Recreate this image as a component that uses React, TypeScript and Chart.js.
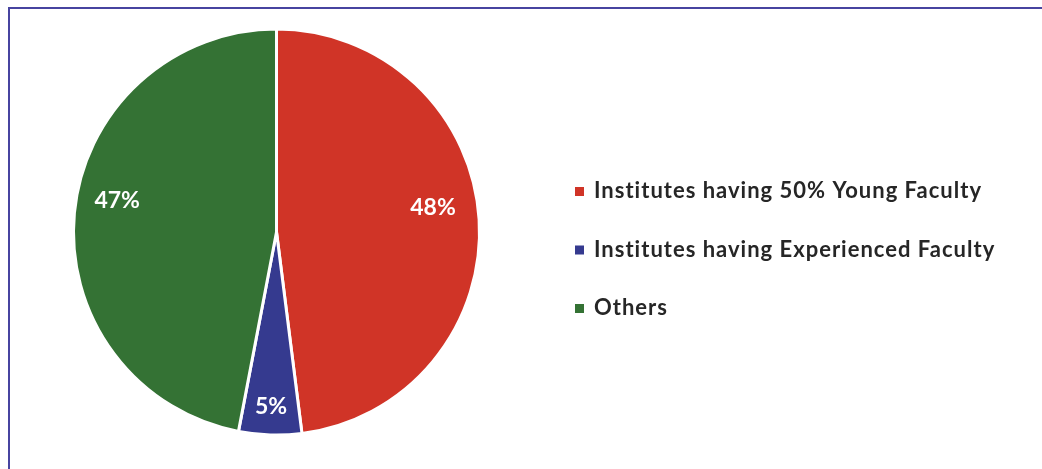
import React, { useEffect, useRef } from "react";
import { Chart, registerables } from "chart.js";

Chart.register(...registerables);

const categories = [
  "Institutes having 50% Young Faculty",
  "Institutes having Experienced Faculty",
  "Others",
];
const values = [48, 5, 47];
const valueLabels = ["48%", "5%", "47%"];
const colors = ["#d03427", "#353a8f", "#347234"];

const FONT = "Lato, 'Open Sans', sans-serif";

const labelPlugin = {
  id: "sliceLabels",
  afterDatasetsDraw(chart: any) {
    const ctx = chart.ctx;
    const meta = chart.getDatasetMeta(0);
    const fr = [0.78, 0.86, 0.8];
    const angOff = [-0.09, 0.0, 0.1];
    ctx.save();
    ctx.fillStyle = "#ffffff";
    ctx.font = `bold 23px ${FONT}`;
    ctx.textAlign = "center";
    ctx.textBaseline = "middle";
    meta.data.forEach((arc: any, i: number) => {
      const p = arc.getProps(["x", "y", "startAngle", "endAngle", "outerRadius"], true);
      const mid = (p.startAngle + p.endAngle) / 2 + angOff[i];
      const r = p.outerRadius * fr[i];
      ctx.fillText(valueLabels[i], p.x + Math.cos(mid) * r, p.y + Math.sin(mid) * r);
    });
    ctx.restore();
  },
};

const legendPlugin = {
  id: "customLegend",
  afterDraw(chart: any) {
    const ctx = chart.ctx;
    const x0 = 575;
    const y0 = 191;
    const gap = 58.5;
    ctx.save();
    ctx.font = `bold 22px ${FONT}`;
    (ctx as any).letterSpacing = "1px";
    ctx.textBaseline = "middle";
    ctx.textAlign = "left";
    chart.data.labels.forEach((lab: string, i: number) => {
      const y = y0 + i * gap;
      ctx.fillStyle = chart.data.datasets[0].backgroundColor[i];
      ctx.fillRect(x0, y - 4, 9, 9);
      ctx.fillStyle = "#262626";
      ctx.fillText(lab, x0 + 19, y);
    });
    ctx.restore();
  },
};

export default function App() {
  const ref = useRef<HTMLCanvasElement | null>(null);
  useEffect(() => {
    if (!ref.current) return;
    const chart = new Chart(ref.current, {
      type: "pie",
      data: {
        labels: categories,
        datasets: [
          {
            data: values,
            backgroundColor: colors,
            borderColor: "#ffffff",
            borderWidth: 3,
          },
        ],
      },
      options: {
        animation: false,
        responsive: false,
        maintainAspectRatio: false,
        layout: { padding: { left: 72, top: 27, right: 561, bottom: 32 } },
        plugins: {
          legend: { display: false },
          tooltip: { enabled: false },
        },
      },
      plugins: [labelPlugin, legendPlugin],
    });
    return () => chart.destroy();
  }, []);
  return (
    <div>
      <canvas
        ref={ref}
        width={1042}
        height={469}
        style={{ position: "fixed", left: 0, top: 0, width: 1042, height: 469 }}
      />
      <div
        style={{
          position: "fixed",
          left: 8,
          top: 7,
          width: 2000,
          height: 2000,
          borderTop: "2px solid #4744a0",
          borderLeft: "2px solid #4744a0",
          pointerEvents: "none",
        }}
      />
    </div>
  );
}
